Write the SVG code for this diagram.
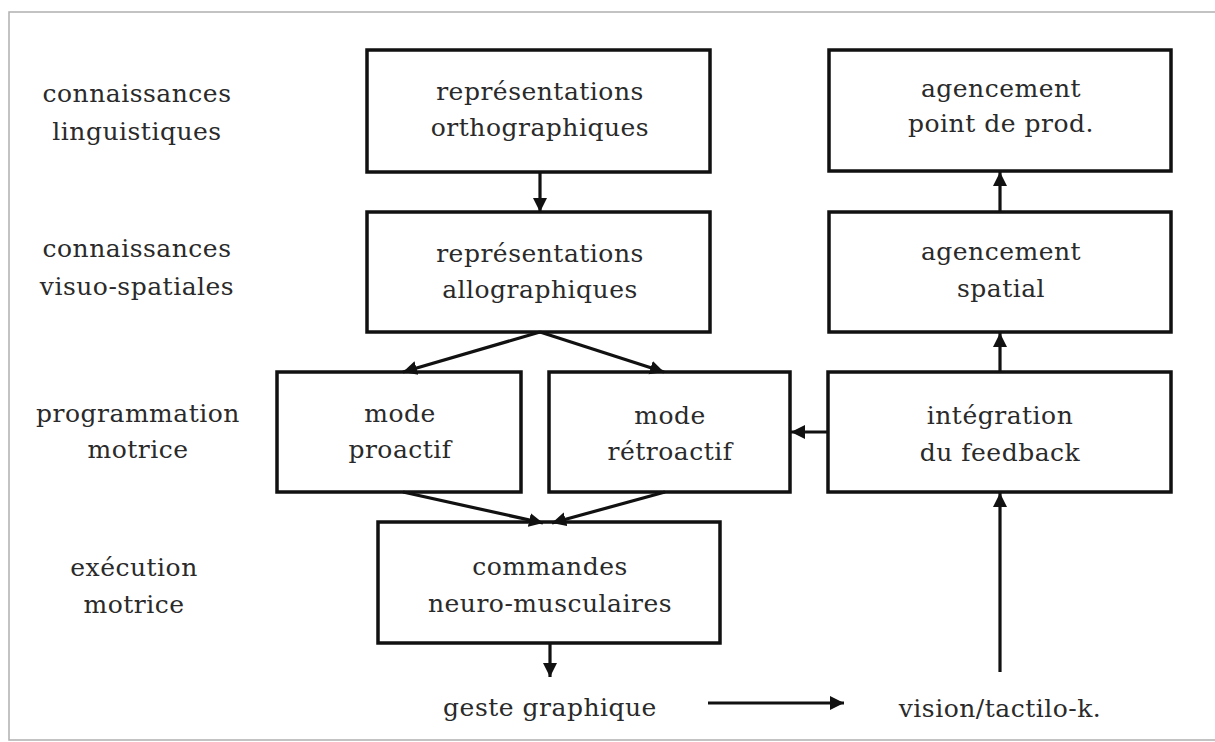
<svg xmlns="http://www.w3.org/2000/svg" width="1215" height="742" viewBox="0 0 1215 742">
<style>
  text { font-family: "DejaVu Serif", serif; font-size: 25px; letter-spacing: 0.5px; fill: #2a2a2a; text-anchor: middle; }
  .box { fill: #ffffff; stroke: #111111; stroke-width: 3.5; }
  .conn { stroke: #111111; stroke-width: 3.2; fill: none; marker-end: url(#arrow); }
</style>
<defs>
  <marker id="arrow" markerUnits="userSpaceOnUse" markerWidth="16" markerHeight="16" refX="14" refY="8" orient="auto">
    <path d="M0,1 L14,8 L0,15 z" fill="#111111"/>
  </marker>
</defs>
<rect x="0" y="0" width="1215" height="742" fill="#ffffff"/>
<path d="M1215,12 L9,12 L9,740 L1215,740" fill="none" stroke="#b0b0b0" stroke-width="1.5"/>

<g id="labels">
  <text x="137" y="102">connaissances</text>
  <text x="137" y="140">linguistiques</text>
  <text x="137" y="257">connaissances</text>
  <text x="137" y="295">visuo-spatiales</text>
  <text x="138" y="422">programmation</text>
  <text x="138" y="458">motrice</text>
  <text x="134" y="576">exécution</text>
  <text x="134" y="613">motrice</text>
</g>

<g id="n-ortho">
  <rect class="box" x="367" y="50" width="343" height="122"/>
  <text x="540" y="100">représentations</text>
  <text x="540" y="136">orthographiques</text>
</g>
<g id="n-allo">
  <rect class="box" x="367" y="212" width="343" height="120"/>
  <text x="540" y="262">représentations</text>
  <text x="540" y="298">allographiques</text>
</g>
<g id="n-proactif">
  <rect class="box" x="277" y="372" width="244" height="120"/>
  <text x="400" y="422">mode</text>
  <text x="400" y="458">proactif</text>
</g>
<g id="n-retroactif">
  <rect class="box" x="549" y="372" width="241" height="120"/>
  <text x="670" y="424">mode</text>
  <text x="670" y="460">rétroactif</text>
</g>
<g id="n-commandes">
  <rect class="box" x="378" y="522" width="342" height="121"/>
  <text x="550" y="575">commandes</text>
  <text x="550" y="612">neuro-musculaires</text>
</g>
<g id="n-geste">
  <text x="550" y="716">geste graphique</text>
</g>
<g id="n-vision">
  <text x="1000" y="717">vision/tactilo-k.</text>
</g>
<g id="n-integration">
  <rect class="box" x="828" y="372" width="343" height="120"/>
  <text x="1000" y="424">intégration</text>
  <text x="1000" y="461">du feedback</text>
</g>
<g id="n-spatial">
  <rect class="box" x="829" y="212" width="342" height="120"/>
  <text x="1001" y="260">agencement</text>
  <text x="1001" y="297">spatial</text>
</g>
<g id="n-point">
  <rect class="box" x="829" y="50" width="342" height="121"/>
  <text x="1001" y="97">agencement</text>
  <text x="1001" y="132">point de prod.</text>
</g>

<g id="connectors">
  <line class="conn" x1="540" y1="172" x2="540" y2="212"/>
  <line class="conn" x1="540" y1="332" x2="403" y2="372"/>
  <line class="conn" x1="540" y1="332" x2="664" y2="372"/>
  <line class="conn" x1="403" y1="492" x2="543" y2="523"/>
  <line class="conn" x1="665" y1="492" x2="552" y2="523"/>
  <line class="conn" x1="550" y1="643" x2="550" y2="677"/>
  <line class="conn" x1="708" y1="703" x2="844" y2="703"/>
  <line class="conn" x1="1000" y1="672" x2="1000" y2="493"/>
  <line class="conn" x1="828" y1="432" x2="791" y2="432"/>
  <line class="conn" x1="1000" y1="372" x2="1000" y2="333"/>
  <line class="conn" x1="1000" y1="212" x2="1000" y2="172"/>
</g>
</svg>
